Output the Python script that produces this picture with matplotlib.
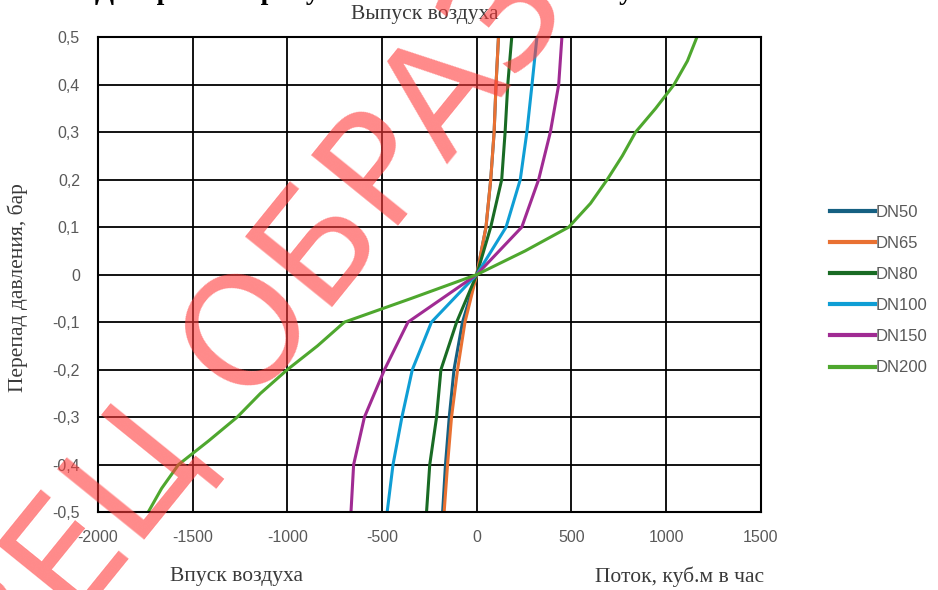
import numpy as np
import matplotlib
matplotlib.use("Agg")
import matplotlib.pyplot as plt

# pressure drop levels, bar
dp = [0.5, 0.4, 0.3, 0.2, 0.1, 0, -0.1, -0.2, -0.3, -0.4, -0.5]
dp_fine = [0.5, 0.45, 0.4, 0.35, 0.3, 0.25, 0.2, 0.15, 0.1, 0.05, 0,
           -0.05, -0.1, -0.15, -0.2, -0.25, -0.3, -0.35, -0.4, -0.45, -0.5]

# flow, m3/h
dn50 = [115, 102, 92, 74, 49, 0, -75, -120, -145, -165, -180]
dn65 = [115, 102, 92, 74, 49, 0, -62, -101, -133, -154, -172]
dn80 = [185, 164, 150, 132, 74, 0, -106, -189, -212, -248, -265]
dn100 = [318, 292, 265, 230, 155, 0, -239, -340, -395, -442, -473]
dn150 = [450, 433, 389, 327, 238, 0, -363, -487, -593, -650, -664]
dn200 = [1163, 1113, 1042, 945, 839, 769, 689, 601, 486, 256, 0,
         -345, -699, -841, -1000, -1142, -1265, -1416, -1575, -1664, -1735]

names = ["DN50", "DN65", "DN80", "DN100", "DN150", "DN200"]
series = [dn50, dn65, dn80, dn100, dn150, dn200]
levels = [dp, dp, dp, dp, dp, dp_fine]
colors = ["#156082", "#E97132", "#196B24", "#0F9ED5", "#A02B93", "#4EA72E"]

xticks = [-2000, -1500, -1000, -500, 0, 500, 1000, 1500]
yticks = [-0.5, -0.4, -0.3, -0.2, -0.1, 0, 0.1, 0.2, 0.3, 0.4, 0.5]

fig = plt.figure(figsize=(9.38, 5.9), dpi=100)
ax = fig.add_axes([0.1045, 0.132, 0.7065, 0.805])

for name, s, y, c in zip(names, series, levels, colors):
    ax.plot(s, y, color=c, lw=2.2, label=name, solid_joinstyle="round")

ax.set_xlim(-2000, 1500)
ax.set_ylim(-0.5, 0.5)
ax.set_xticks(xticks)
ax.set_yticks(yticks)
ax.set_xticklabels([str(v) for v in xticks])
ax.set_yticklabels([("%g" % v).replace(".", ",") for v in yticks])
ax.grid(True, color="black", lw=1.3)
ax.set_axisbelow(True)
for sp in ax.spines.values():
    sp.set_color("black")
    sp.set_linewidth(1.5)
ax.tick_params(length=0, labelsize=11.5, labelcolor="#595959")
ax.tick_params(axis="y", pad=13)
ax.tick_params(axis="x", pad=13)
for t in ax.get_xticklabels() + ax.get_yticklabels():
    t.set_fontfamily("Liberation Sans")

serif = dict(family="Liberation Serif", size=15.5, color="#3a3a3a")
fig.text(425 / 938, 1 - 15 / 590, "Выпуск воздуха", ha="center", va="center", **serif)
fig.text(237 / 938, 1 - 577 / 590, "Впуск воздуха", ha="center", va="center", **serif)
fig.text(680 / 938, 1 - 577 / 590, "Поток, куб.м в час", ha="center", va="center", **serif)
fig.text(18 / 938, 1 - 288 / 590, "Перепад давления, бар", ha="center", va="center",
         rotation=90, **serif)

# cut-off heading at the very top, only the lowest strokes show
fig.text(95 / 938, 1 + 1 / 590, "Диаграмма пропускной способности вантуза",
         ha="left", va="baseline", family="Liberation Serif", weight="bold",
         size=20, color="black")

leg = fig.legend(loc="center left", bbox_to_anchor=(830 / 938, 1 - 290 / 590),
                 frameon=False, fontsize=12, handlelength=2.7, handletextpad=0.05,
                 labelspacing=0.97, borderpad=0, borderaxespad=0)
for t in leg.get_texts():
    t.set_color("#595959")
    t.set_fontfamily("Liberation Sans")
for h in leg.get_lines():
    h.set_linewidth(3)

# red watermark
wm = dict(family="DejaVu Sans", size=110, color="#ff3b3b", alpha=0.6,
          rotation=51, rotation_mode="anchor", va="center", zorder=10)
ox, oy = 212 / 938, 212 / 590
fig.text(ox, oy, "ОБРАЗЕЦ", ha="left", **wm)
gx = ox - 60 * np.cos(np.radians(51)) / 938
gy = oy - 60 * np.sin(np.radians(51)) / 590
fig.text(gx, gy, "ОБРАЗЕЦ", ha="right", **wm)

fig.savefig("out.png", dpi=100)
